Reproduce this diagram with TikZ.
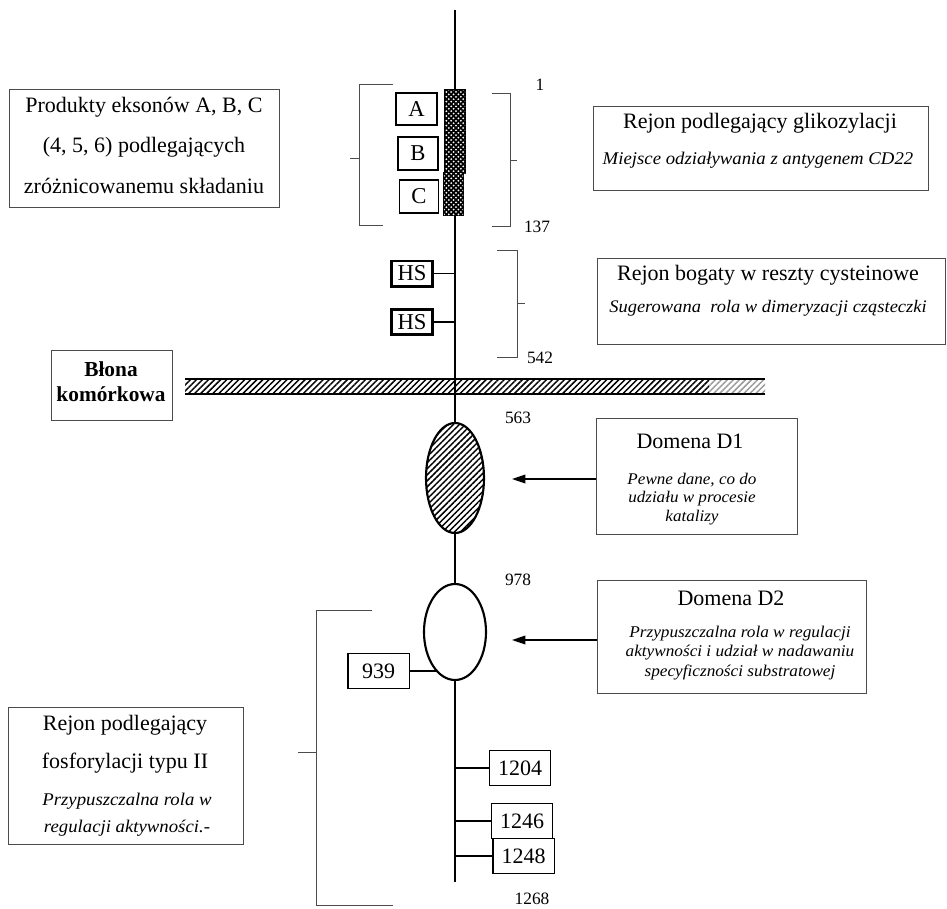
\documentclass[tikz,border=0pt]{standalone}
\usepackage{fontspec}
\setmainfont{Liberation Serif}
\newfontfamily\wideit[FakeStretch=1.05]{Liberation Serif Italic}
\usetikzlibrary{arrows.meta,patterns.meta,fit,shapes.geometric}

% white dots laid over the black glycosylation bar
\tikzdeclarepattern{
  name=bardots, type=uncolored,
  bounding box={(-0.8pt,-0.8pt) and (2.6pt,2.6pt)},
  tile size={(3.6pt,3.6pt)},
  code={\fill (0pt,0pt) circle (0.75pt); \fill (1.8pt,1.8pt) circle (0.75pt);}
}

\tikzset{
  spine/.style={line width=2pt},
  txtbox/.style={draw=black!70, line width=0.6pt, inner sep=0},
  bracket/.style={draw=black!70, line width=0.6pt},
  letterbox/.style={draw, line width=0.8pt, inner sep=0, font=\fontsize{17}{18}\selectfont},
  hsbox/.style={draw, line width=2pt, inner sep=0, minimum width=31pt, minimum height=19pt, font=\fontsize{17}{18}\selectfont},
  numbox/.style={draw, line width=1pt, inner sep=0, minimum width=46pt, minimum height=26pt, font=\fontsize{16.5}{18}\selectfont},
  barseg/.style={draw, line width=1pt, fill=black, postaction={pattern=bardots, pattern color=white}, inner sep=0},
  sitetick/.style={line width=1pt},
  headline/.style={inner sep=0, font=\fontsize{16.5}{18}\selectfont},
  note/.style={inner sep=0, font=\wideit\fontsize{#1}{14}\selectfont},
  note/.default=12,
  poslabel/.style={inner sep=0, font=\fontsize{13}{14}\selectfont},
  hatch/.style={pattern={Lines[angle=45,distance=3.2pt,line width=1.1pt]}},
  pointer/.style={line width=1pt, -{Triangle[length=10pt,width=6.5pt]}}
}

\begin{document}
\begin{tikzpicture}[x=0.75pt,y=-0.75pt]
\useasboundingbox (0,0) rectangle (947,908);

% cell membrane
\fill[hatch] (185,379) rectangle (709,394);
\fill[hatch, pattern color=black!40] (709,379) rectangle (765,394);
\draw[line width=2.2pt] (185,379) -- (765,379) (185,394) -- (765,394);

% backbone of the protein
\coordinate (top) at (455,10);
\coordinate (bot) at (455,882);
\draw[spine] (top) -- (bot);

% alternatively spliced exon products
\node[barseg, fit={(445,90)(465,132)}] (barA) {};
\node[barseg, fit={(445,132)(465,173)}] (barB) {};
\node[barseg, fit={(444,173)(463,215)}] (barC) {};
\node[letterbox, minimum width=30.75pt, minimum height=24pt] (exA) at (416.5,109) {A};
\node[letterbox, minimum width=30pt, minimum height=24.75pt] (exB) at (418,153.5) {B};
\node[letterbox, minimum width=29.25pt, minimum height=24.75pt] (exC) at (419,196.5) {C};

\draw[bracket] (393,84) -- (359,84) -- (359,225) -- (383,225) (359,158) -- (350,158);
\draw[bracket] (492,93) -- (510,93) -- (510,226) -- (492,226) (510,160) -- (517,160);
\node[poslabel] (p1) at (540,85) {1};
\node[poslabel] (p137) at (537,227) {137};

\node[txtbox, fit={(9,89)(279,207)}] (exonbox) {};
\node[headline] (ex1) at (144,107) {Produkty eksonów A, B, C};
\node[headline] (ex2) at (144,147) {(4, 5, 6) podlegających};
\node[headline] (ex3) at (144,186) {zróżnicowanemu składaniu};

\node[txtbox, fit={(593,106)(928,190)}] (glycbox) {};
\node[headline] (gl1) at (760,123) {Rejon podlegający glikozylacji};
\node[note=13.4] (gl2) at (758,160) {Miejsce odziaływania z antygenem CD22};

% cysteine-rich region
\node[hsbox] (hs1) at (412,273.5) {HS};
\node[hsbox] (hs2) at (412,322) {HS};
\draw[sitetick] (hs1.east) -- (hs1.east -| top);
\draw[sitetick] (hs2.east) -- (hs2.east -| top);
\draw[bracket] (497,250) -- (517,250) -- (517,357) -- (497,357) (517,303) -- (525,303);
\node[poslabel] (p542) at (540,358) {542};

\node[txtbox, fit={(597,258)(945,344)}] (cysbox) {};
\node[headline] (cy1) at (768,275) {Rejon bogaty w reszty cysteinowe};
\node[note=13.2] (cy2) at (768,308) {Sugerowana\ \ rola w dimeryzacji cząsteczki};

\node[txtbox, fit={(51,350)(172,420)}] (membox) {};
\node[inner sep=0, font=\bfseries\fontsize{16}{18}\selectfont] (mem1) at (111,369) {Błona};
\node[inner sep=0, font=\bfseries\fontsize{16}{18}\selectfont] (mem2) at (111,394) {komórkowa};

% domain D1
\node[poslabel] (p563) at (518,418) {563};
\node[ellipse, draw, line width=1.6pt, minimum width=43.5pt, minimum height=82.5pt, inner sep=0,
      preaction={fill=white}, hatch] (d1) at (455,478) {};
\node[txtbox, fit={(596,418)(797,534)}] (d1box) {};
\node[headline] (d1a) at (690,441) {Domena D1};
\node[note=12.2] (d1b) at (692,480) {Pewne dane, co do};
\node[note=12.2] (d1c) at (692,499) {udziału w procesie};
\node[note=12.2] (d1d) at (692,518) {katalizy};
\coordinate (d1tip) at (512,479);
\draw[pointer] (d1box.west |- d1tip) -- (d1tip);

% domain D2
\node[poslabel] (p978) at (518,580) {978};
\node[ellipse, draw, line width=1.6pt, minimum width=46.5pt, minimum height=72pt, inner sep=0, fill=white] (d2) at (455,632) {};
\node[txtbox, fit={(597,580)(866,693)}] (d2box) {};
\node[headline] (d2a) at (731,598) {Domena D2};
\node[note=12.3] (d2b) at (740,634) {Przypuszczalna rola w regulacji};
\node[note=12.3] (d2c) at (740,653) {aktywności i udział w nadawaniu};
\node[note=12.3] (d2d) at (740,672) {specyficzności substratowej};
\coordinate (d2tip) at (512,640);
\draw[pointer] (d2box.west |- d2tip) -- (d2tip);

% phosphorylation sites
\node[numbox] (n939) at (378.5,671) {939};
\draw[sitetick] (n939.east) -- (n939.east -| d2.245);
\node[numbox] (n1204) at (520,768) {1204};
\node[numbox] (n1246) at (522,821) {1246};
\node[numbox] (n1248) at (523.5,856) {1248};
\draw[sitetick] (n1204.west) -- (n1204.west -| top);
\draw[sitetick] (n1246.west) -- (n1246.west -| top);
\draw[sitetick] (n1248.west) -- (n1248.west -| top);
\node[poslabel] (p1268) at (532,899) {1268};

\draw[bracket] (372,610) -- (316,610) -- (316,905) -- (393,905) (316,752) -- (298,752);

\node[txtbox, fit={(8,707)(243,844)}] (phbox) {};
\node[headline] (ph1) at (125,725) {Rejon podlegający};
\node[headline] (ph2) at (125,763) {fosforylacji typu II};
\node[note=13.4] (ph3) at (127,801) {Przypuszczalna rola w};
\node[note=13.4] (ph4) at (127,828) {regulacji aktywności.-};
\end{tikzpicture}
\end{document}
